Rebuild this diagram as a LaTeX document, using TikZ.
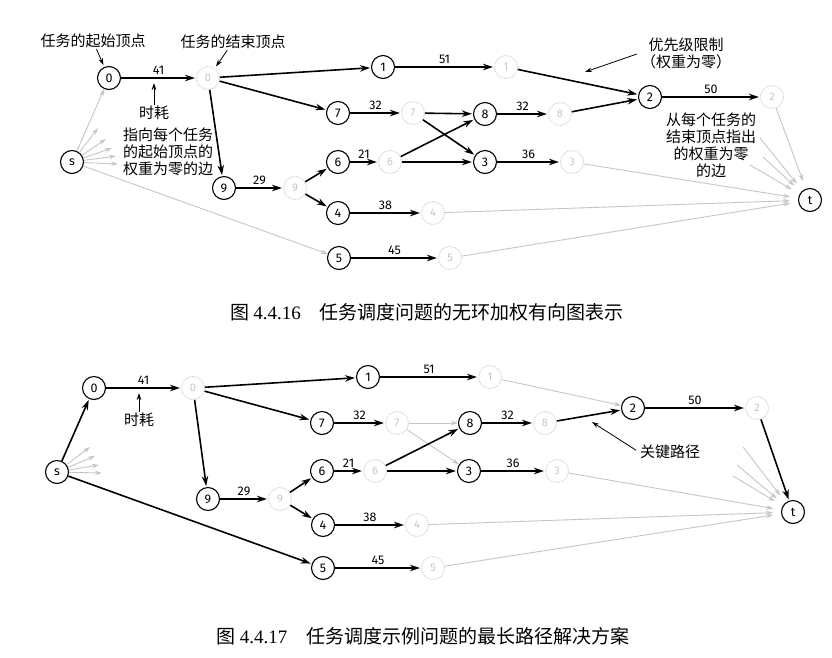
\documentclass[tikz,border=0pt]{standalone}
\usepackage{fontspec}
\setmainfont{Liberation Serif}
\newfontfamily\cjk{Noto Sans CJK SC}
\newfontfamily\numf{Fira Sans}
\usetikzlibrary{arrows.meta}
\begin{document}
\begin{tikzpicture}[x=1pt,y=-1pt,
  v/.style={circle,draw,line width=1.1pt,minimum size=23pt,inner sep=0pt,font=\numf\fontsize{12.5}{12.5}\selectfont},
  fv/.style={circle,draw=gray!35,densely dotted,line width=1pt,minimum size=23pt,inner sep=0pt,text=gray!45,font=\numf\fontsize{11}{11}\selectfont},
  e/.style={line width=1.6pt,-{Stealth[length=10pt,width=6.5pt]},shorten >=1pt},
  ge/.style={draw=gray!45,line width=0.9pt,-{Stealth[length=7pt,width=4.5pt]}},
  w/.style={font=\numf\fontsize{12.5}{12.5}\selectfont,above,inner sep=2.5pt},
  ann/.style={font=\cjk\fontsize{15}{17}\selectfont,align=center,inner sep=1pt},
  aa/.style={line width=0.8pt,-{Stealth[length=7pt,width=4.5pt]}},
  captxt/.style={font=\cjk\fontsize{19}{21}\selectfont,inner sep=0pt}
]
\useasboundingbox (0,0) rectangle (832,657);
\fill[white] (0,0) rectangle (832,657);

% ---------------- top diagram ----------------
\node[v] (as) at (72,162) {s};
\node[v] (at) at (810,200) {t};
\node[v] (a0) at (109,78) {0};  \node[fv] (a0e) at (208,78) {0};
\node[v] (a1) at (383,67) {1};  \node[fv] (a1e) at (506,67) {1};
\node[v] (a7) at (338,113) {7}; \node[fv] (a7e) at (413,113) {7};
\node[v] (a8) at (485,114) {8}; \node[fv] (a8e) at (560,114) {8};
\node[v] (a2) at (650,97) {2};  \node[fv] (a2e) at (772,97) {2};
\node[v] (a6) at (338,162) {6}; \node[fv] (a6e) at (390,162) {6};
\node[v] (a3) at (485,162) {3}; \node[fv] (a3e) at (572,162) {3};
\node[v] (a9) at (224,188) {9}; \node[fv] (a9e) at (295,188) {9};
\node[v] (a4) at (338,213) {4}; \node[fv] (a4e) at (433,213) {4};
\node[v] (a5) at (339,258) {5}; \node[fv] (a5e) at (450,258) {5};

% gray zero-weight edges
\coordinate (asf1) at (98,128);
\coordinate (asf2) at (106,139);
\coordinate (asf3) at (112,148);
\coordinate (asf4) at (116,156);
\coordinate (asf5) at (118,164);
\draw[ge] (as) -- (a0);
\draw[ge] (as) -- (a5);
\foreach \c in {asf1,asf2,asf3,asf4,asf5} \draw[ge] (as) -- (\c);
\coordinate (atf1) at (760,138);
\coordinate (atf2) at (763,157);
\coordinate (atf3) at (750,165);
\draw[ge,shorten >=9pt] (atf1) -- (at);
\draw[ge,shorten >=9pt] (atf2) -- (at);
\draw[ge,shorten >=9pt] (atf3) -- (at);
\draw[ge,shorten >=8pt] (a2e) -- (at);
\draw[ge,shorten >=8pt] (a3e) -- (at);
\draw[ge,shorten >=8pt] (a4e) -- (at);
\draw[ge,shorten >=8pt] (a5e) -- (at);

% black edges
\draw[e] (a0) -- node[w]{41} (a0e);
\draw[e] (a0e) -- (a1);
\draw[e] (a0e) -- (a7);
\draw[e] (a0e) -- (a9);
\draw[e] (a1) -- node[w]{51} (a1e);
\draw[e] (a1e) -- (a2);
\draw[e] (a7) -- node[w]{32} (a7e);
\draw[e] (a7e) -- (a8);
\draw[e] (a7e) -- (a3);
\draw[e] (a6e) -- (a8);
\draw[e] (a6e) -- (a3);
\draw[e] (a8) -- node[w]{32} (a8e);
\draw[e] (a8e) -- (a2);
\draw[e] (a2) -- node[w]{50} (a2e);
\draw[e] (a6) -- node[w]{21} (a6e);
\draw[e] (a9) -- node[w]{29} (a9e);
\draw[e] (a9e) -- (a6);
\draw[e] (a9e) -- (a4);
\draw[e] (a3) -- node[w]{36} (a3e);
\draw[e] (a4) -- node[w]{38} (a4e);
\draw[e] (a5) -- node[w]{45} (a5e);

% annotations
\node[ann] (l1) at (93,41) {任务的起始顶点};
\node[ann] (l2) at (233,42) {任务的结束顶点};
\node[ann] (l3) at (154,113) {时耗};
\coordinate (c3) at (154,83);
\node[ann] (l4) at (686,53) {优先级限制\\（权重为零）};
\coordinate (c4) at (585,72);
\node[ann] (l6) at (711,145) {从每个任务的\\结束顶点指出\\的权重为零\\的边};
\node[ann] (l7) at (168,152) {指向每个任务\\的起始顶点的\\权重为零的边};
\draw[aa,shorten >=2pt] (l1) -- (a0);
\draw[aa,shorten >=2pt] (l2) -- (a0e);
\draw[aa] (l3) -- (c3);
\draw[aa,shorten <=3pt] (l4.west) -- (c4);

\node[captxt] (cap1) at (427,312) {图 {\rmfamily 4.4.16}\quad 任务调度问题的无环加权有向图表示};

% ---------------- bottom diagram ----------------
\node[v] (bs) at (57,472) {s};
\node[v] (bt) at (793,512) {t};
\node[v] (b0) at (94,388) {0};  \node[fv] (b0e) at (193,388) {0};
\node[v] (b1) at (368,377) {1}; \node[fv] (b1e) at (490,377) {1};
\node[v] (b7) at (322,423) {7}; \node[fv] (b7e) at (397,423) {7};
\node[v] (b8) at (470,423) {8}; \node[fv] (b8e) at (545,423) {8};
\node[v] (b2) at (633,408) {2}; \node[fv] (b2e) at (757,408) {2};
\node[v] (b6) at (322,471) {6}; \node[fv] (b6e) at (375,471) {6};
\node[v] (b3) at (469,471) {3}; \node[fv] (b3e) at (557,471) {3};
\node[v] (b9) at (208,499) {9}; \node[fv] (b9e) at (280,499) {9};
\node[v] (b4) at (323,525) {4}; \node[fv] (b4e) at (417,525) {4};
\node[v] (b5) at (323,568) {5}; \node[fv] (b5e) at (433,568) {5};

\coordinate (bsf1) at (90,447);
\coordinate (bsf2) at (95,456);
\coordinate (bsf3) at (99,465);
\coordinate (bsf4) at (102,473);
\foreach \c in {bsf1,bsf2,bsf3,bsf4} \draw[ge] (bs) -- (\c);
\coordinate (btf1) at (743,447);
\coordinate (btf2) at (737,465);
\coordinate (btf3) at (733,476);
\draw[ge,shorten >=9pt] (btf1) -- (bt);
\draw[ge,shorten >=9pt] (btf2) -- (bt);
\draw[ge,shorten >=9pt] (btf3) -- (bt);
\draw[ge,shorten >=8pt] (b3e) -- (bt);
\draw[ge,shorten >=8pt] (b4e) -- (bt);
\draw[ge,shorten >=8pt] (b5e) -- (bt);
\draw[ge] (b1e) -- (b2);
\draw[ge] (b7e) -- (b8);
\draw[ge] (b7e) -- (b3);

\draw[e] (bs) -- (b0);
\draw[e] (bs) -- (b5);
\draw[e] (b0) -- node[w]{41} (b0e);
\draw[e] (b0e) -- (b1);
\draw[e] (b0e) -- (b7);
\draw[e] (b0e) -- (b9);
\draw[e] (b1) -- node[w]{51} (b1e);
\draw[e] (b7) -- node[w]{32} (b7e);
\draw[e] (b6e) -- (b8);
\draw[e] (b6e) -- (b3);
\draw[e] (b8) -- node[w]{32} (b8e);
\draw[e] (b8e) -- (b2);
\draw[e] (b2) -- node[w]{50} (b2e);
\draw[e] (b2e) -- (bt);
\draw[e] (b6) -- node[w]{21} (b6e);
\draw[e] (b9) -- node[w]{29} (b9e);
\draw[e] (b9e) -- (b6);
\draw[e] (b9e) -- (b4);
\draw[e] (b3) -- node[w]{36} (b3e);
\draw[e] (b4) -- node[w]{38} (b4e);
\draw[e] (b5) -- node[w]{45} (b5e);

\node[ann] (m3) at (139,420) {时耗};
\coordinate (d3) at (139,393);
\draw[aa] (m3) -- (d3);
\node[ann] (m5) at (670,452) {关键路径};
\coordinate (d5) at (592,422);
\draw[aa,shorten <=3pt] (m5.west) -- (d5);

\node[captxt] (cap2) at (423,636) {图 {\rmfamily 4.4.17}\quad 任务调度示例问题的最长路径解决方案};
\end{tikzpicture}
\end{document}
